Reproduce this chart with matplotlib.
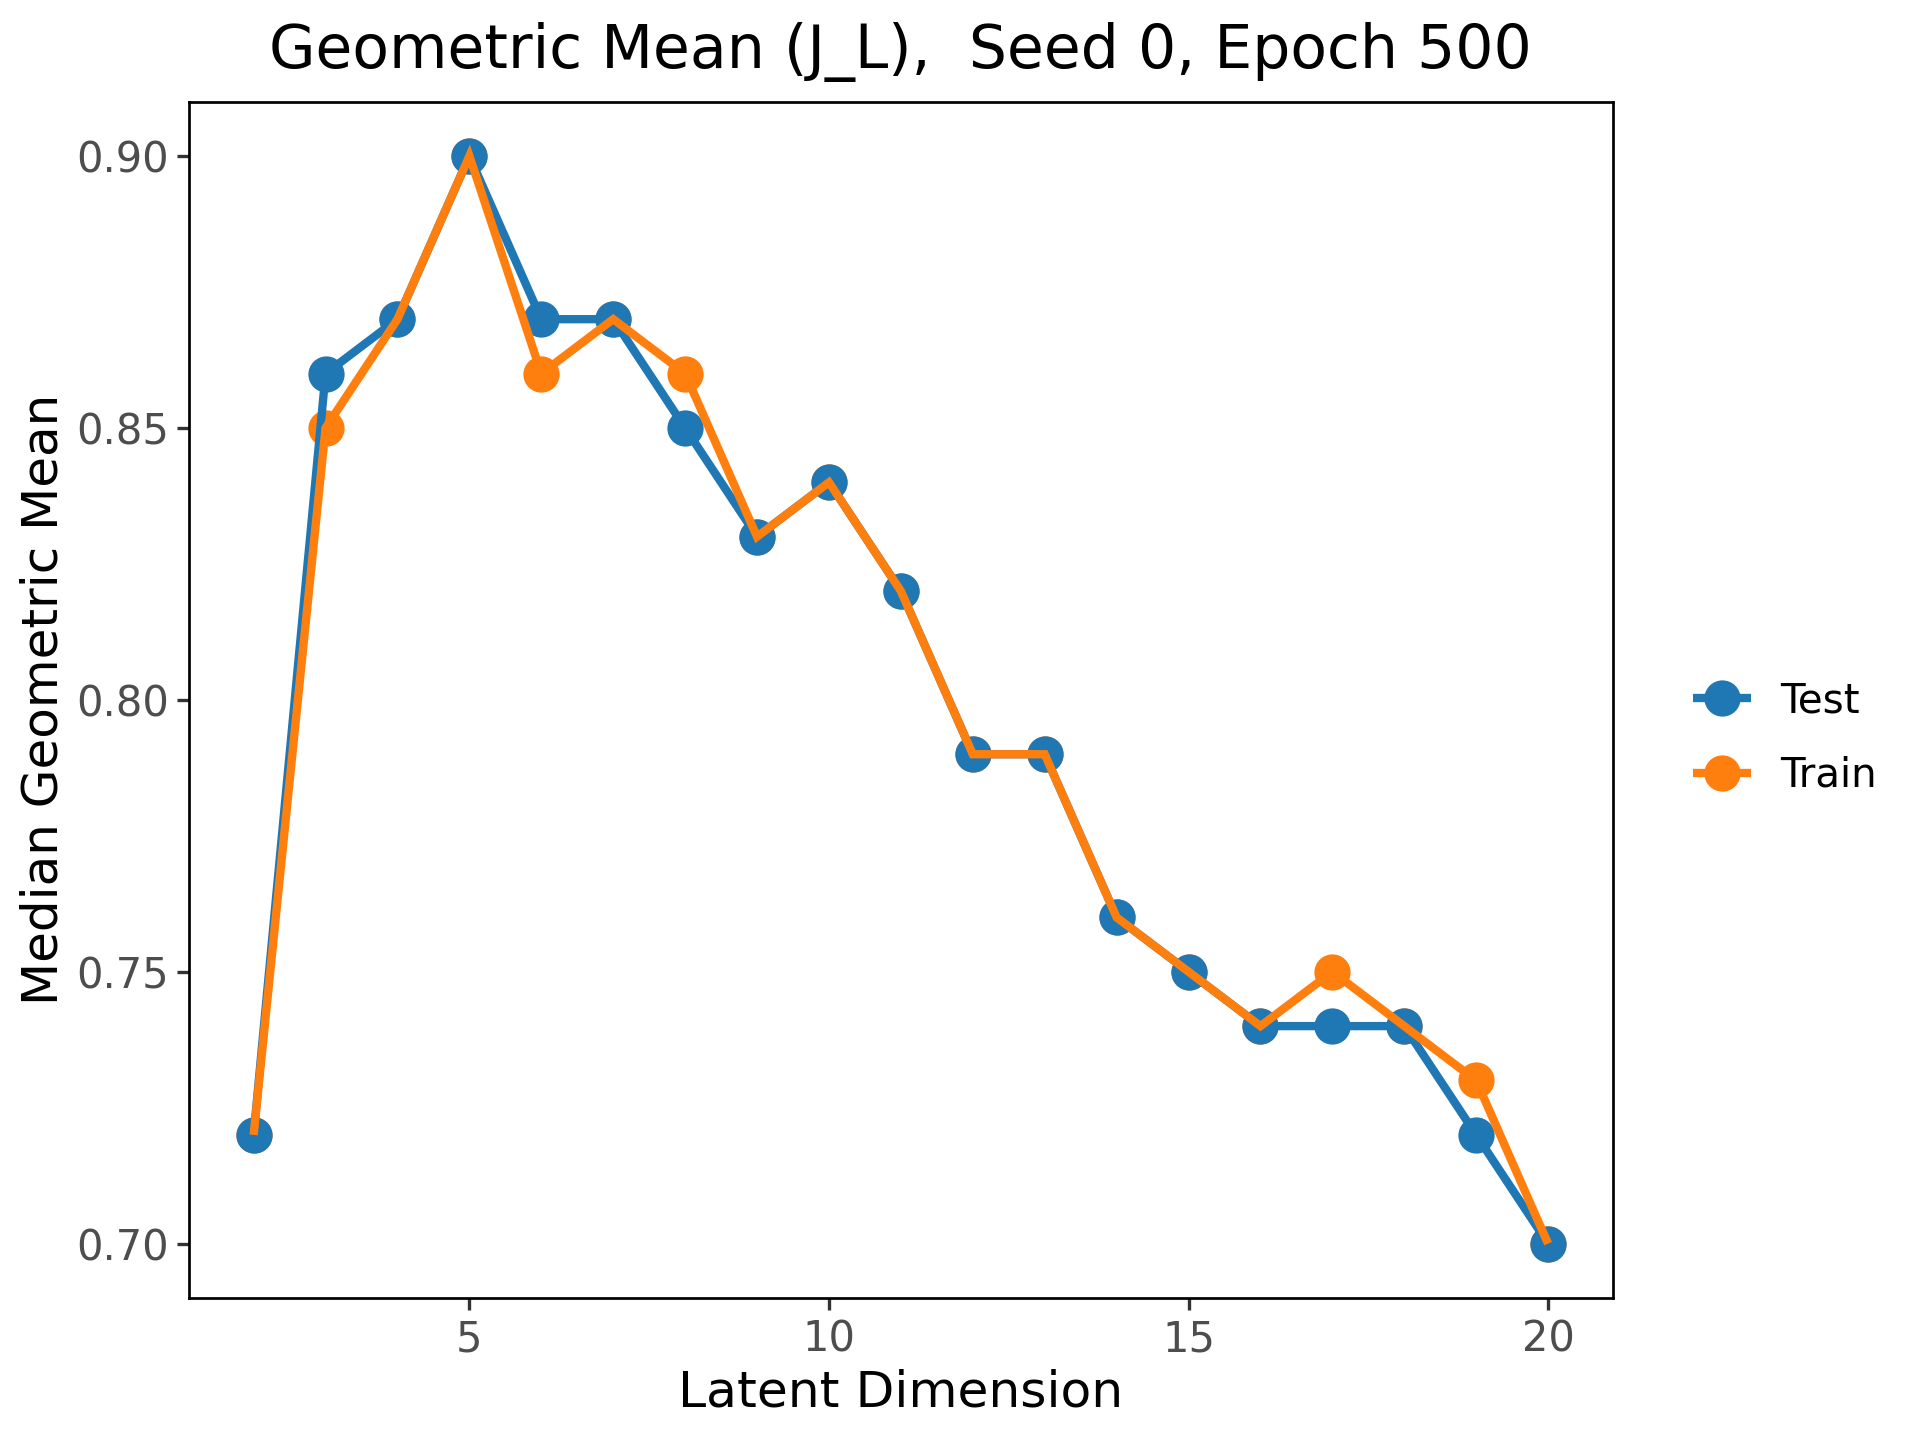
#geometric mean vs latent dimension, test and train
import matplotlib
matplotlib.use('Agg')
import matplotlib.pyplot as plt

#data
latent_dim = [2, 3, 4, 5, 6, 7, 8, 9, 10, 11, 12, 13, 14, 15, 16, 17, 18, 19, 20]
test_gm = [0.72, 0.86, 0.87, 0.90, 0.87, 0.87, 0.85, 0.83, 0.84, 0.82,
           0.79, 0.79, 0.76, 0.75, 0.74, 0.74, 0.74, 0.72, 0.70]
train_gm = [0.72, 0.85, 0.87, 0.90, 0.86, 0.87, 0.86, 0.83, 0.84, 0.82,
            0.79, 0.79, 0.76, 0.75, 0.74, 0.75, 0.74, 0.73, 0.70]
y_ticks = [0.70, 0.75, 0.80, 0.85, 0.90]
x_ticks = [5, 10, 15, 20]

blue = '#1f77b4'
orange = '#ff7f0e'

#define figure and axis
fig = plt.figure(figsize=(6.4, 4.8), dpi=300)
ax = fig.add_axes([0.0984, 0.0986, 0.840 - 0.0984, 0.9294 - 0.0986])

#markers first, lines on top
ax.plot(latent_dim, train_gm, 'o', color=orange, markersize=7.7, linestyle='none', zorder=2)
ax.plot(latent_dim, test_gm, 'o', color=blue, markersize=7.7, linestyle='none', zorder=3)
ax.plot(latent_dim, test_gm, '-', color=blue, linewidth=2.0,
        solid_capstyle='butt', solid_joinstyle='miter', zorder=4)
ax.plot(latent_dim, train_gm, '-', color=orange, linewidth=2.0,
        solid_capstyle='butt', solid_joinstyle='miter', zorder=5)

ax.set_xlim(1.1, 20.9)
ax.set_ylim(0.69, 0.91)
ax.set_xticks(x_ticks)
ax.set_yticks(y_ticks)
ax.set_yticklabels(['%.2f' % v for v in y_ticks])
ax.tick_params(axis='both', direction='out', length=2.8, width=0.8, color='#333333',
               labelcolor='#4d4d4d', labelsize=10, pad=2)
for s in ax.spines.values():
    s.set_linewidth(0.65)
    s.set_color('black')

ax.set_title('Geometric Mean (J_L),  Seed 0, Epoch 500', fontsize=14.4, pad=8)
ax.set_xlabel('Latent Dimension', fontsize=12.1, labelpad=2)
ax.set_ylabel('Median Geometric Mean', fontsize=12.0, labelpad=2)

#legend handles
h_test = plt.Line2D([], [], color=blue, marker='o', markersize=7.7, linewidth=2.0,
                    solid_capstyle='butt')
h_train = plt.Line2D([], [], color=orange, marker='o', markersize=7.7, linewidth=2.0,
                     solid_capstyle='butt')
fig.legend([h_test, h_train], ['Test', 'Train'], loc='center left',
           bbox_to_anchor=(0.871, 0.487), frameon=False, fontsize=9.7,
           handlelength=1.45, handletextpad=0.72, labelspacing=0.85, borderpad=0)

fig.savefig('out.png', dpi=300)
